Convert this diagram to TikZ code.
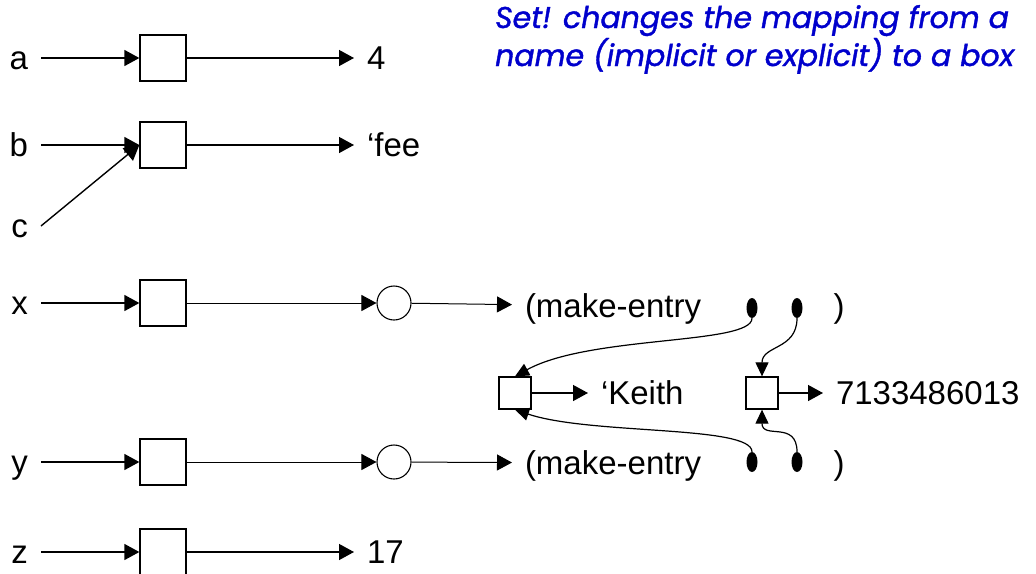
\documentclass[tikz,border=0pt]{standalone}
\usepackage{fontspec}
\setmainfont{Liberation Sans}
\newfontfamily\notefont{Poppins}[FakeBold=1.3,ItalicFeatures={FakeBold=1.3}]
\usepackage{xcolor}
\usetikzlibrary{arrows.meta,shapes.geometric}
\definecolor{noteblue}{RGB}{0,0,204}

\begin{document}
\begin{tikzpicture}[x=1pt,y=-1pt,
		w/.style={font=\fontsize{33}{40}\selectfont,inner sep=0pt,outer xsep=13pt,text height=23pt,text depth=0pt},
		cell/.style={draw,line width=1.3pt,minimum size=46pt,inner sep=0pt},
		cellsm/.style={draw,line width=1.3pt,minimum size=32pt,inner sep=0pt},
		ring/.style={draw,circle,line width=1.1pt,minimum size=34pt,inner sep=0pt},
		dot/.style={ellipse,fill,minimum width=11pt,minimum height=20pt,inner sep=0pt},
		arr/.style={-{Triangle[length=15pt,width=16pt]},line width=1.4pt},
		arrthin/.style={arr,line width=1pt},
		link/.style={-{Triangle[length=14pt,width=13pt]},line width=1.2pt},
		note/.style={font=\notefont\itshape\fontsize{30}{38}\selectfont,text=noteblue,inner sep=0pt,anchor=base west}]
			\useasboundingbox (0,0) rectangle (1036,573);
			\node[note] (n1) at (495,28) {Set! changes the mapping from a};
			\node[note] (n2) at (495,66) {name (implicit or explicit) to a box};
			% names bound straight to values
			\node[w,anchor=east] (a) at (41,58) {a};
			\node[cell] (abox) at (163,58) {};
			\node[w,anchor=west] (four) at (354,58) {4};
			\node[w,anchor=east] (b) at (41,145) {b};
			\node[cell] (bbox) at (163,145) {};
			\node[w,anchor=west] (fee) at (354,145) {‘fee};
			\node[w,anchor=east] (c) at (41,226) {c};
			\node[w,anchor=east] (z) at (41,552) {z};
			\node[cell] (zbox) at (163,552) {};
			\node[w,anchor=west] (seventeen) at (354,552) {17};
			\draw[arr] (a) -- (abox);
			\draw[arr] (abox) -- (four);
			\draw[arr] (b) -- (bbox);
			\draw[arr] (c.east) -- (bbox.west);
			\draw[arr] (bbox) -- (fee);
			\draw[arr] (z) -- (zbox);
			\draw[arr] (zbox) -- (seventeen);
			% the two entries
			\node[w,anchor=east] (x) at (41,303) {x};
			\node[cell] (xbox) at (163,303) {};
			\node[ring] (xring) at (394,303) {};
			\node[w,anchor=west] (xmk) at (512,306) {(make-entry};
			\node[dot] (xd1) at (752,308) {};
			\node[dot] (xd2) at (797,308) {};
			\node[w] (xpar) at (839,306) {)};
			\node[w,anchor=east] (y) at (41,462) {y};
			\node[cell] (ybox) at (163,462) {};
			\node[ring] (yring) at (394,462) {};
			\node[w,anchor=west] (ymk) at (512,463) {(make-entry};
			\node[dot] (yd1) at (752,462) {};
			\node[dot] (yd2) at (797,462) {};
			\node[w] (ypar) at (839,463) {)};
			\node[cellsm] (kbox) at (515,393) {};
			\node[w,anchor=west] (keith) at (588,393) {‘Keith};
			\node[cellsm] (pbox) at (762,393) {};
			\node[w,anchor=west] (phone) at (823,393) {7133486013};
			\draw[arr] (x) -- (xbox);
			\draw[arrthin] (xbox) -- (xring);
			\draw[arrthin] (xring) -- (xmk);
			\draw[arr] (y) -- (ybox);
			\draw[arrthin] (ybox) -- (yring);
			\draw[arrthin] (yring) -- (ymk);
			\draw[arr] (kbox) -- (keith);
			\draw[arr] (pbox) -- (phone);
			\draw[link] (xd1.south) .. controls (752,345) and (590,335) .. (kbox.north);
			\draw[link] (xd2.south) .. controls (797,350) and (762,345) .. (pbox.north);
			\draw[link] (yd1.north) .. controls (752,425) and (590,435) .. (kbox.south);
			\draw[link] (yd2.north) .. controls (797,420) and (762,440) .. (pbox.south);
		\end{tikzpicture}
\end{document}
